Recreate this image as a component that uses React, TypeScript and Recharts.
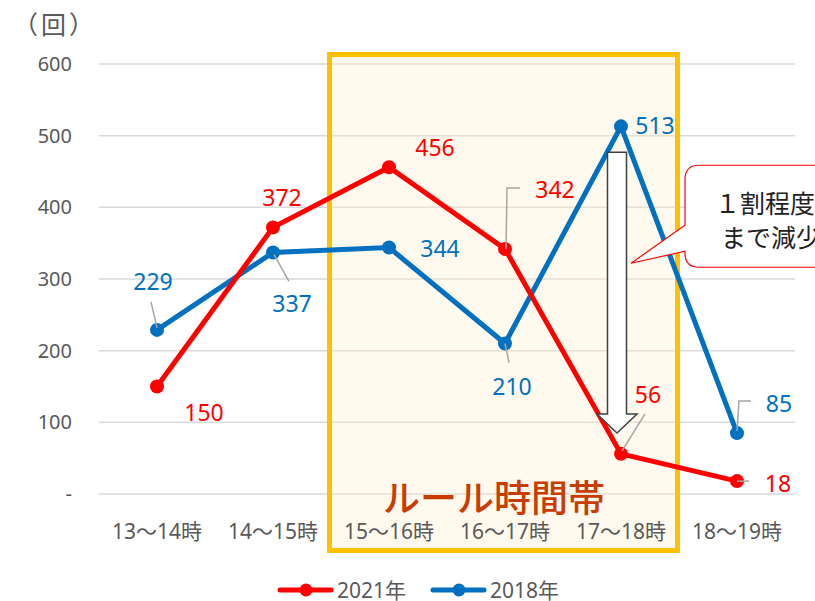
import React from "react"
import {
    CartesianGrid,
    LabelList,
    Legend,
    Line,
    LineChart,
    ReferenceArea,
    ReferenceDot,
    ReferenceLine,
    XAxis,
    YAxis,
} from "recharts"

const HOURS = ["13～14時", "14～15時", "15～16時", "16～17時", "17～18時", "18～19時"]
const COUNTS_2021 = [150, 372, 456, 342, 56, 18]
const COUNTS_2018 = [229, 337, 344, 210, 513, 85]
const Y_TICKS = [0, 100, 200, 300, 400, 500, 600]

const RULE_FROM = "15～16時"
const RULE_TO = "17～18時"
const RULE_LABEL = "ルール時間帯"
const DROP_AT = "17～18時"
const ARROW_FROM = 477
const ARROW_TO = 85
const CALLOUT_AT = 322
const CALLOUT_LINES = ["１割程度", "まで減少"]

// label placement relative to the point (px), plus optional leader lines
const RED_LABEL_POS = [[47, 25], [9, -30], [46, -20], [50, -60], [27, -60], [41, 2]]
const RED_LEADERS = [null, null, null, [[1, 0], [2, -61], [15, -61]], [[1, -3], [24, -40]], [[0, 0], [12, 0]]]
const BLUE_LABEL_POS = [[-4, -49], [19, 51], [51, 1], [7, 42], [34, -1], [42, -30]]
const BLUE_LEADERS = [[[-6, -28], [0, -2]], [[1, 2], [16, 29]], null, [[0, 0], [4, 19]], null, [[0, -2], [2, -32], [14, -32]]]

const RED = "#FF0000"
const BLUE = "#0070C0"
const GRAY_TEXT = "#595959"
const FONT = "'Noto Sans', 'Noto Sans CJK JP', sans-serif"

const data = HOURS.map((hour, i) => ({ hour, y2021: COUNTS_2021[i], y2018: COUNTS_2018[i] }))

const makeLabel = (color: string, pos: number[][], leaders: (number[][] | null)[]) => (props: any) => {
    const { x, y, value, index } = props
    const [dx, dy] = pos[index]
    const leader = leaders[index]
    return (
        <g>
            {leader && (
                <polyline
                    points={leader.map(([lx, ly]) => `${x + lx},${y + ly}`).join(" ")}
                    fill="none"
                    stroke="#A6A6A6"
                    strokeWidth={1.5}
                />
            )}
            <text x={x + dx} y={y + dy} textAnchor="middle" dominantBaseline="central" fill={color} fontSize={23}>
                {value}
            </text>
        </g>
    )
}

const RuleArea = (props: any) => {
    const { x, y, width, height } = props
    const bottom = y + height
    return (
        <g>
            <rect
                x={x - 59.5}
                y={y - 9.5}
                width={width + 116}
                height={height + 66}
                fill="#FFF2CC"
                fillOpacity={0.35}
                stroke="#FFC000"
                strokeWidth={5}
            />
            <text
                x={x + width / 2 - 11}
                y={bottom + 18}
                textAnchor="middle"
                fill="#C83C00"
                fontSize={37}
                fontWeight={500}
            >
                {RULE_LABEL}
            </text>
        </g>
    )
}

const DropArrow = (props: any) => {
    const { x1, y1, y2 } = props
    const cx = x1 - 4
    const top = y1
    const tip = y2
    const shaft = 9.5
    const head = 20
    const headLen = 19
    const pts = [
        [cx - shaft, top],
        [cx + shaft, top],
        [cx + shaft, tip - headLen],
        [cx + head, tip - headLen],
        [cx, tip],
        [cx - head, tip - headLen],
        [cx - shaft, tip - headLen],
    ]
    return <polygon points={pts.map((p) => p.join(",")).join(" ")} fill="#FFFFFF" stroke="#404040" strokeWidth={1.5} />
}

const Callout = (props: any) => {
    const { cx, cy } = props
    const tipX = cx + 10
    const left = cx + 64
    const top = cy - 98
    const bottom = cy + 4
    const r = 14
    const right = left + 200
    const d = [
        `M ${left + r} ${top}`,
        `L ${right} ${top}`,
        `L ${right} ${bottom}`,
        `L ${left + r} ${bottom}`,
        `Q ${left} ${bottom} ${left} ${bottom - r}`,
        `L ${left} ${cy - 12}`,
        `L ${tipX} ${cy}`,
        `L ${left} ${cy - 38}`,
        `L ${left} ${top + r}`,
        `Q ${left} ${top} ${left + r} ${top}`,
        "Z",
    ].join(" ")
    return (
        <g>
            <path d={d} fill="#FFFFFF" stroke={RED} strokeWidth={1.2} />
            <text x={left + 30} y={cy - 50} fill="#222222" fontSize={25}>
                {CALLOUT_LINES[0]}
            </text>
            <text x={left + 36} y={cy - 16} fill="#222222" fontSize={25}>
                {CALLOUT_LINES[1]}
            </text>
        </g>
    )
}

const LEGEND_ITEMS = [
    { name: "2021年", color: RED },
    { name: "2018年", color: BLUE },
]

const renderLegend = () => (
    <div
        style={{
            display: "flex",
            alignItems: "center",
            fontFamily: FONT,
            fontSize: 21,
            color: GRAY_TEXT,
            whiteSpace: "nowrap",
        }}
    >
        {LEGEND_ITEMS.map((item, i) => (
            <div key={item.name} style={{ display: "flex", alignItems: "center", marginLeft: i ? 24 : 0 }}>
                <svg width={57} height={16}>
                    <line x1={3} y1={8} x2={54} y2={8} stroke={item.color} strokeWidth={5} strokeLinecap="round" />
                    <circle cx={29} cy={8} r={6.5} fill={item.color} />
                </svg>
                <span style={{ marginLeft: 3, lineHeight: "26px" }}>{item.name}</span>
            </div>
        ))}
    </div>
)

export default function App() {
    return (
        <div
            style={{
                position: "absolute",
                left: 0,
                top: 0,
                width: 815,
                height: 601,
                background: "#FFFFFF",
                fontFamily: FONT,
            }}
        >
            <div
                style={{
                    position: "absolute",
                    left: 13,
                    top: 6,
                    fontSize: 25,
                    color: GRAY_TEXT,
                    lineHeight: "34px",
                    fontFamily: "'Noto Sans CJK JP', sans-serif",
                    letterSpacing: 3,
                }}
            >
                （回）
            </div>
            <LineChart width={815} height={601} data={data} margin={{ top: 64, right: 20, left: 39, bottom: 47 }}>
                <CartesianGrid vertical={false} stroke="#D9D9D9" strokeWidth={1.5} />
                <XAxis
                    dataKey="hour"
                    height={60}
                    padding={{ left: 58, right: 58 }}
                    axisLine={false}
                    tickLine={false}
                    tickSize={0}
                    tickMargin={30}
                    tick={{ fill: GRAY_TEXT, fontSize: 21 }}
                    interval={0}
                />
                <YAxis
                    width={60}
                    domain={[0, 600]}
                    ticks={Y_TICKS}
                    axisLine={false}
                    tickLine={false}
                    tickSize={0}
                    tickMargin={27}
                    tick={{ fill: GRAY_TEXT, fontSize: 20 }}
                    tickFormatter={(v) => (v === 0 ? "-" : `${v}`)}
                />
                <ReferenceArea x1={RULE_FROM} x2={RULE_TO} y1={0} y2={600} ifOverflow="visible" shape={RuleArea} />
                <Line
                    type="linear"
                    dataKey="y2018"
                    name="2018年"
                    stroke={BLUE}
                    strokeWidth={5}
                    dot={{ r: 7, fill: BLUE, stroke: BLUE, strokeWidth: 0 }}
                    activeDot={false}
                    isAnimationActive={false}
                >
                    <LabelList dataKey="y2018" content={makeLabel(BLUE, BLUE_LABEL_POS, BLUE_LEADERS)} />
                </Line>
                <Line
                    type="linear"
                    dataKey="y2021"
                    name="2021年"
                    stroke={RED}
                    strokeWidth={5}
                    dot={{ r: 7, fill: RED, stroke: RED, strokeWidth: 0 }}
                    activeDot={false}
                    isAnimationActive={false}
                >
                    <LabelList dataKey="y2021" content={makeLabel(RED, RED_LABEL_POS, RED_LEADERS)} />
                </Line>
                <ReferenceLine
                    segment={[
                        { x: DROP_AT, y: ARROW_FROM },
                        { x: DROP_AT, y: ARROW_TO },
                    ]}
                    ifOverflow="visible"
                    shape={DropArrow}
                />
                <ReferenceDot x={DROP_AT} y={CALLOUT_AT} ifOverflow="visible" shape={Callout} />
                <Legend
                    verticalAlign="middle"
                    layout="horizontal"
                    wrapperStyle={{ top: 577, left: 277, width: 420 }}
                    content={renderLegend}
                />
            </LineChart>
        </div>
    )
}
